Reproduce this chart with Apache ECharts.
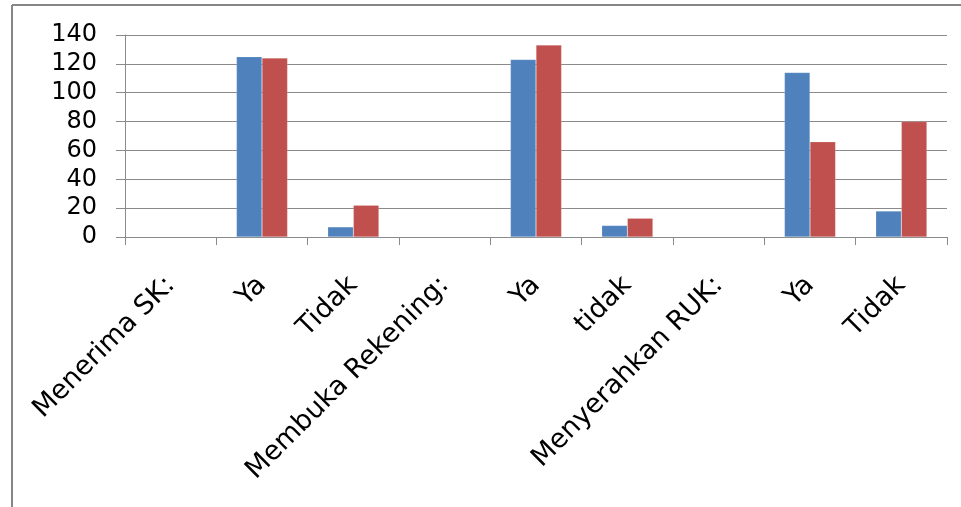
<!DOCTYPE html>
<html>
<head>
<meta charset="utf-8">
<script src="https://cdn.jsdelivr.net/npm/echarts@6/dist/echarts.min.js"></script>
<style>
  html, body { margin: 0; padding: 0; background: #ffffff; }
  #chart { width: 961px; height: 507px; }
</style>
</head>
<body>
<div id="chart"></div>
<script>
// Survey answers grouped under three questions (heading rows are left blank)
const categories = ['Menerima SK:', 'Ya', 'Tidak', 'Membuka Rekening:', 'Ya', 'tidak', 'Menyerahkan RUK:', 'Ya', 'Tidak'];
const seriesBlue = [null, 125, 7, null, 123, 8, null, 114, 18];
const seriesRed = [null, 124, 22, null, 133, 13, null, 66, 80];
const yTicks = { min: 0, max: 140, interval: 20 };

const chart = echarts.init(document.getElementById('chart'), null, { renderer: 'canvas' });

const textFont = 'DejaVu Sans, Verdana, sans-serif';
const gray = '#8a8a8a';

chart.setOption({
  animation: false,
  backgroundColor: '#ffffff',
  grid: { left: 125, right: 14, top: 35, bottom: 270, containLabel: false },
  graphic: [
    { type: 'line', shape: { x1: 12, y1: 5, x2: 961, y2: 5 }, style: { stroke: '#868686', lineWidth: 2 } },
    { type: 'line', shape: { x1: 12, y1: 5, x2: 12, y2: 507 }, style: { stroke: '#868686', lineWidth: 2 } }
  ],
  xAxis: {
    type: 'category',
    data: categories,
    axisLine: { lineStyle: { color: gray, width: 1 } },
    axisTick: { show: true, length: 8, lineStyle: { color: gray } },
    axisLabel: {
      rotate: 45,
      interval: 0,
      margin: 44,
      color: '#000000',
      fontFamily: textFont,
      fontSize: 27
    }
  },
  yAxis: {
    type: 'value',
    min: yTicks.min,
    max: yTicks.max,
    interval: yTicks.interval,
    axisLine: { show: true, lineStyle: { color: gray, width: 1 } },
    axisTick: { show: true, length: 9, lineStyle: { color: gray } },
    splitLine: { show: true, lineStyle: { color: gray, width: 1 } },
    axisLabel: {
      margin: 28,
      color: '#000000',
      fontFamily: textFont,
      fontSize: 24
    }
  },
  series: [
    {
      type: 'bar',
      data: seriesBlue,
      barGap: '0%',
      barCategoryGap: '44%',
      itemStyle: { color: '#4F81BD', borderColor: 'rgba(255,255,255,0.35)', borderWidth: 0.5 }
    },
    {
      type: 'bar',
      data: seriesRed,
      barGap: '0%',
      barCategoryGap: '44%',
      itemStyle: { color: '#C0504D', borderColor: 'rgba(255,255,255,0.35)', borderWidth: 0.5 }
    }
  ]
});
</script>
</body>
</html>
